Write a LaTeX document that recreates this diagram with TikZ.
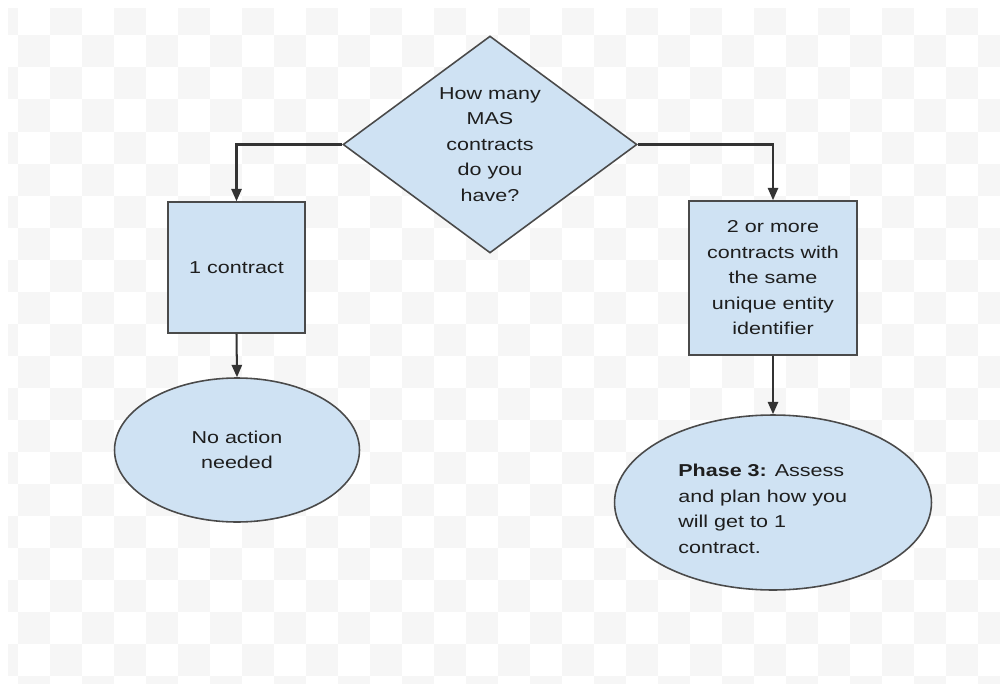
\documentclass[tikz,border=0pt]{standalone}
\usepackage{fontspec}
\setmainfont{Liberation Sans}[FakeStretch=1.25]
\usetikzlibrary{shapes.geometric,arrows.meta}
\definecolor{boxfill}{HTML}{CFE2F3}
\definecolor{boxline}{HTML}{4A4A4A}
\definecolor{connline}{HTML}{333333}
\definecolor{checker}{HTML}{F6F6F6}
\definecolor{txt}{HTML}{1E1E1E}
\tikzset{
  shapebase/.style={draw=boxline, fill=boxfill, line width=0.9pt, inner sep=0pt,
    text=txt, font=\fontsize{9.8pt}{14.5pt}\selectfont, align=center},
  decision/.style={shapebase, diamond, minimum width=5.88cm, minimum height=4.34cm},
  procbox/.style={shapebase, rectangle},
  terminal/.style={shapebase, ellipse},
  plaintext/.style={inner sep=0pt, text=txt, font=\fontsize{9.8pt}{14.5pt}\selectfont},
  conn/.style={draw=connline, line width=1.15pt, -{Triangle[width=5.8pt,length=7pt]}}
}
\begin{document}
\begin{tikzpicture}[x=0.02cm, y=-0.02cm]
\useasboundingbox (0,0) rectangle (1000,686);
% faint transparency checkerboard background
\begin{scope}
\clip (8,9) rectangle (1000,683);
\foreach \i in {-1,...,30}{
  \foreach \j in {0,...,21}{
    \pgfmathtruncatemacro{\ckpar}{mod(\i+\j+100,2)}
    \ifnum\ckpar=1
      \fill[checker] (18+32*\i,3.5+32*\j) rectangle ++(32,32);
    \fi
  }
}
\end{scope}

\node[decision] (q) at (490,144.5) {How many\\MAS\\contracts\\do you\\have?};
\node[procbox, minimum width=2.74cm, minimum height=2.62cm] (b1) at (236.5,267.5) {1 contract};
\node[procbox, minimum width=3.36cm, minimum height=3.08cm] (b2) at (773,278) {2 or more\\contracts with\\the same\\unique entity\\identifier};
\node[terminal, minimum width=4.9cm, minimum height=2.88cm] (e1) at (237,450) {No action\\needed};
\node[terminal, minimum width=6.34cm, minimum height=3.5cm] (e2) at (773,502.5) {};
\node[plaintext, anchor=west, align=left] (e2t) at (678,509) {\textbf{Phase 3:} Assess\\and plan how you\\will get to 1\\contract.};

\draw[conn] (q.west) -| (b1.north);
\draw[conn] (q.east) -| (b2.north);
\draw[conn] (b1.south) -- (e1.north);
\draw[conn] (b2.south) -- (e2.north);
\end{tikzpicture}
\end{document}
